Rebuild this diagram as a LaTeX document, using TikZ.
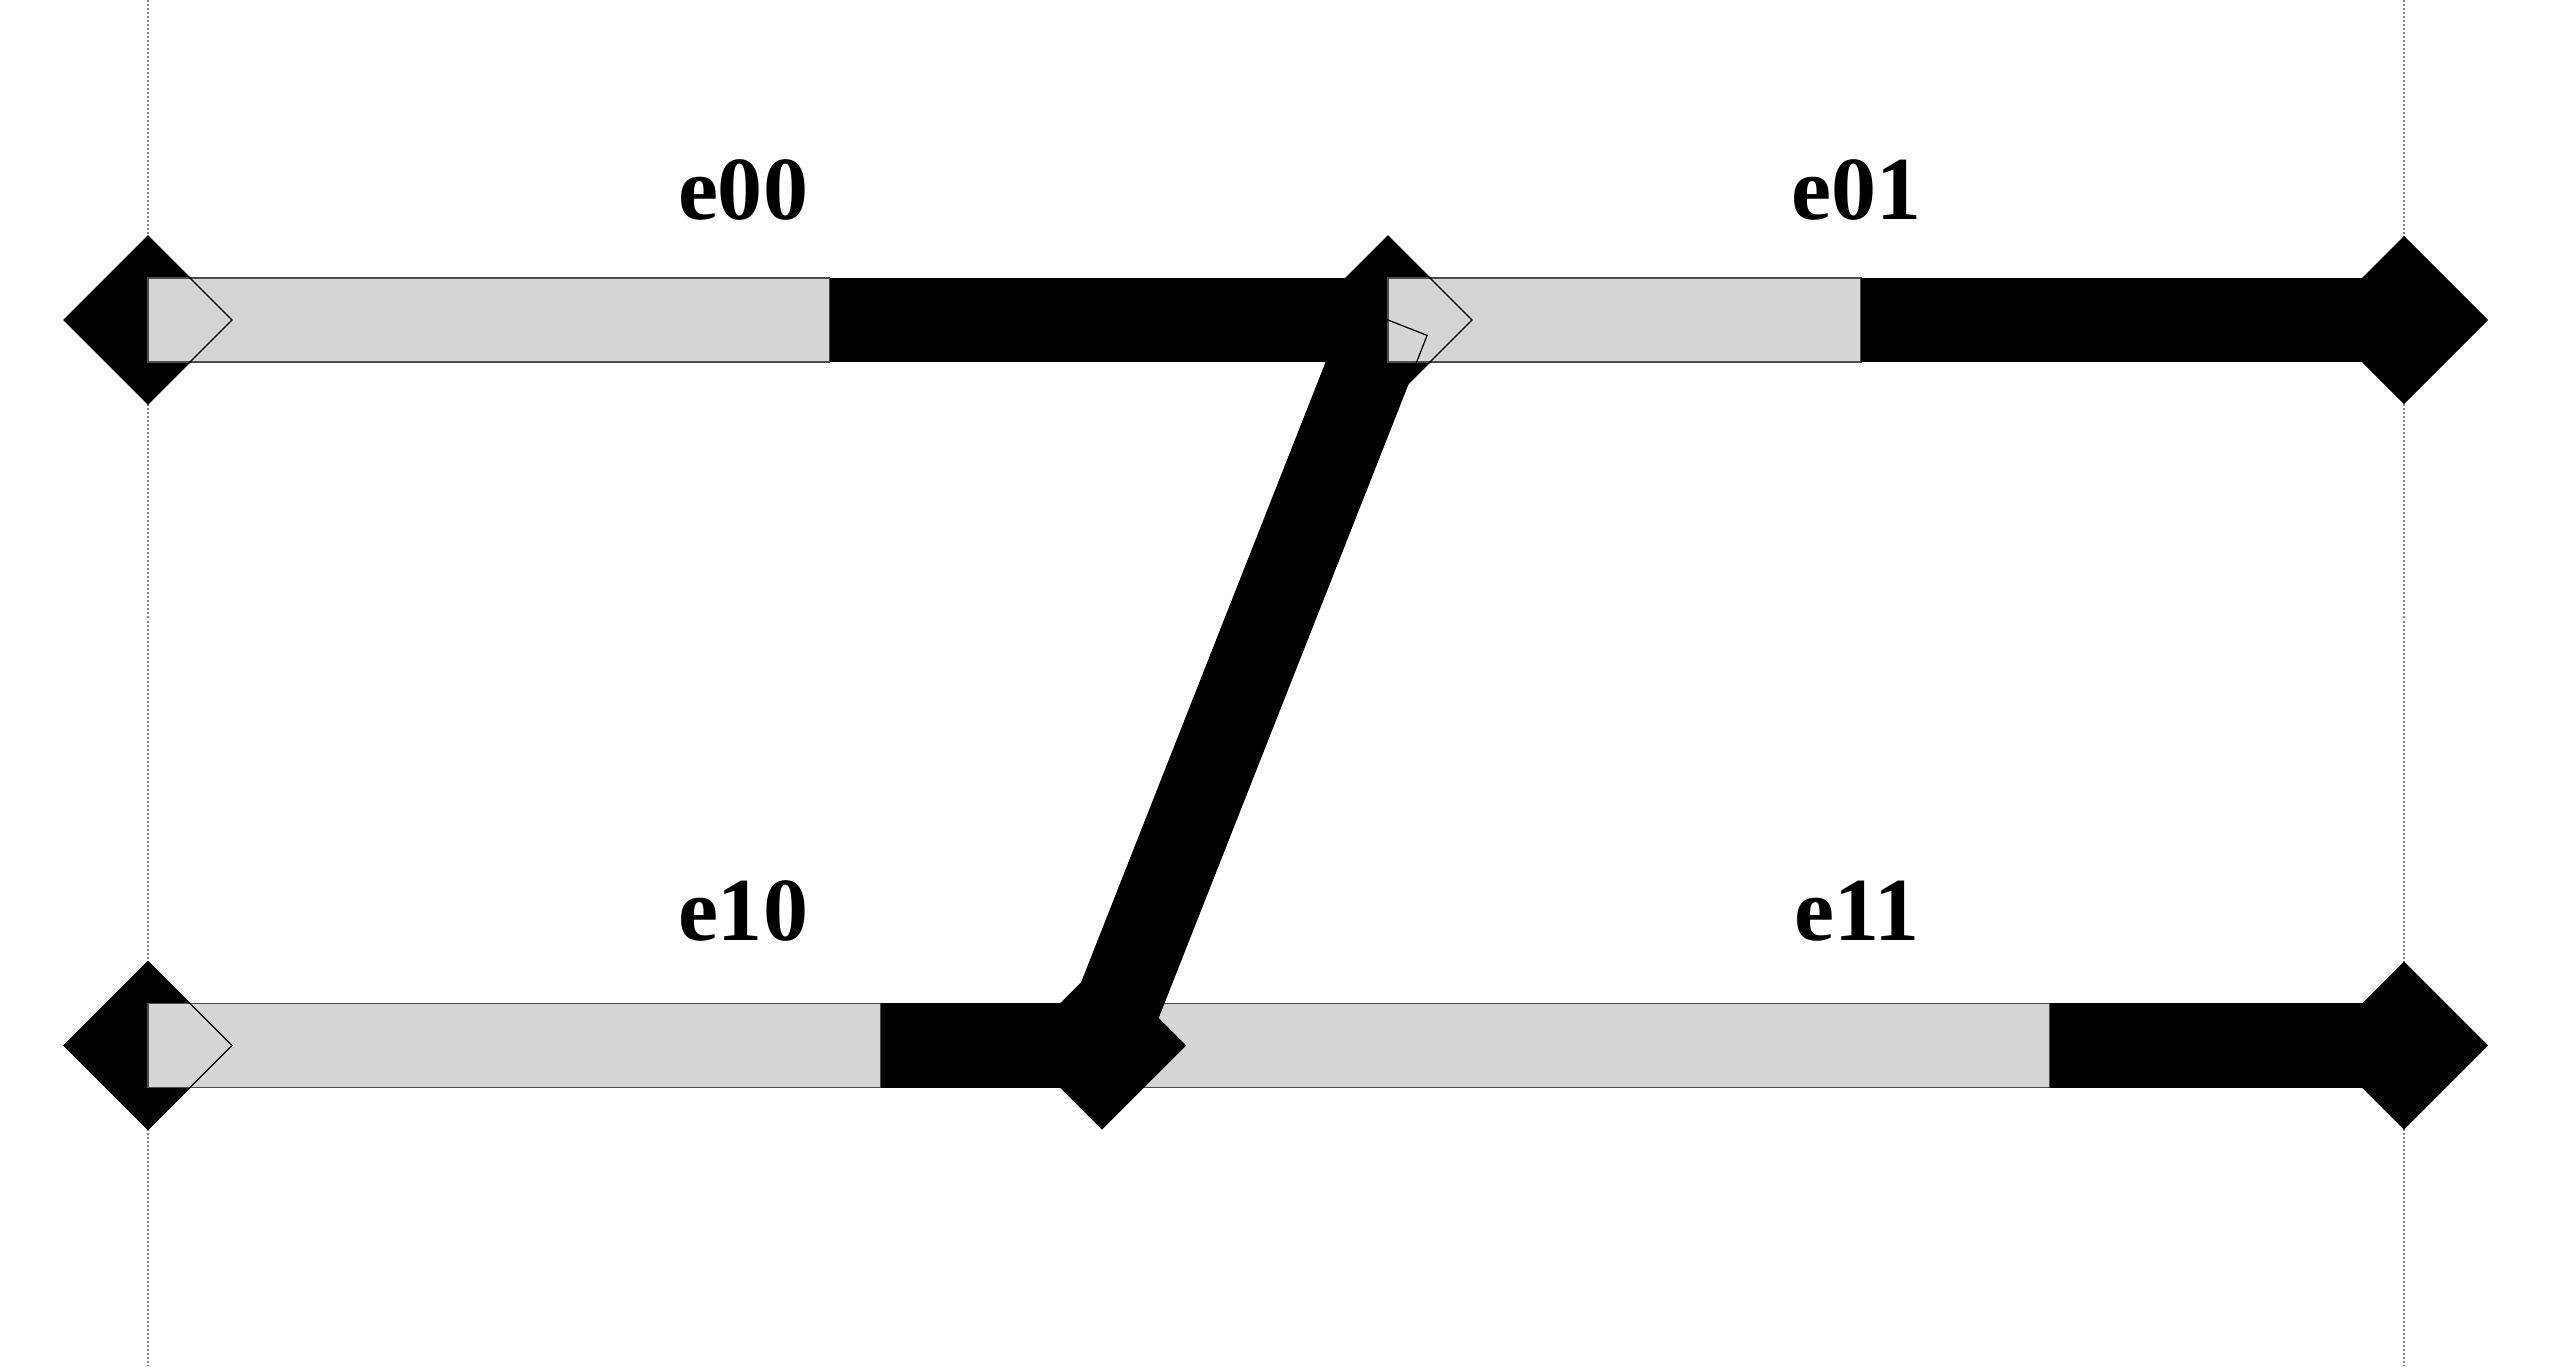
\documentclass[tikz,border=0pt]{standalone}
\usepackage{fontspec}
\setmainfont{Liberation Serif}
\usetikzlibrary{shapes.geometric,calc}
\definecolor{barfill}{RGB}{214,214,214}
\begin{document}
\begin{tikzpicture}[x=0.01cm,y=-0.01cm,
  junction/.style={shape=diamond, fill=black, draw=none, inner sep=0pt, outer sep=0pt,
    minimum width=1.68cm, minimum height=1.68cm},
  greyseg/.style={fill=barfill, draw=black!70, line width=0.4pt},
  blackseg/.style={fill=black, draw=none},
  rim/.style={draw=black, line width=0.35pt},
  guide/.style={draw=black!50, line width=0.57pt, dash pattern=on 0.02cm off 0.02cm},
  lbl/.style={font=\fontsize{25.6}{30}\selectfont\bfseries, anchor=base, inner sep=0pt}]
\useasboundingbox (0,0) rectangle (2552,1366);
% guide lines
\coordinate (g1t) at (148,0);
\coordinate (g1b) at (148,1366);
\coordinate (g2t) at (2404,0);
\coordinate (g2b) at (2404,1366);
\draw[guide] (g1t) -- (g1b);
\draw[guide] (g2t) -- (g2b);
% junctions (fills)
\node[junction] (lt) at (148,320) {};
\node[junction] (lb) at (148,1045.5) {};
\node[junction] (mt) at (1388,320) {};
\node[junction] (rt) at (2404,320) {};
\node[junction] (rb) at (2404,1045.5) {};
\coordinate (mbpos) at (1102,1045.5);
% split points
\coordinate (s00) at (829.5,320);
\coordinate (s01) at (1861,320);
\coordinate (s10) at (880.7,1045.5);
\coordinate (s11) at (2050,1045.5);
% bottom edges
\path[greyseg] ([yshift=0.42cm]lb.center) rectangle ([yshift=-0.42cm]s10);
\path[blackseg] ([yshift=0.42cm]s10) rectangle ([yshift=-0.42cm]mbpos);
\path[greyseg] ([yshift=0.42cm]mbpos) rectangle ([yshift=-0.42cm]s11);
\path[blackseg] ([yshift=0.42cm]s11) rectangle ([yshift=-0.42cm]rb.center);
% diagonal connector
\coordinate (da) at ($(mt.center)!0.42cm!90:(mbpos)$);
\coordinate (db) at ($(mt.center)!0.42cm!-90:(mbpos)$);
\coordinate (dc) at ($(mbpos)!0.42cm!90:(mt.center)$);
\coordinate (dd) at ($(mbpos)!0.42cm!-90:(mt.center)$);
\fill[black] (da) -- (db) -- (dc) -- (dd) -- cycle;
\node[junction] (mb) at (mbpos) {};
% top edges
\path[greyseg] ([yshift=0.42cm]lt.center) rectangle ([yshift=-0.42cm]s00);
\path[blackseg] ([yshift=0.42cm]s00) rectangle ([yshift=-0.42cm]mt.center);
\path[greyseg] ([yshift=0.42cm]mt.center) rectangle ([yshift=-0.42cm]s01);
\path[blackseg] ([yshift=0.42cm]s01) rectangle ([yshift=-0.42cm]rt.center);
% outlines showing through
\draw[rim] (lt.north) -- (lt.east) -- (lt.south) -- (lt.west) -- cycle;
\draw[rim] (lb.north) -- (lb.east) -- (lb.south) -- (lb.west) -- cycle;
\draw[rim] (mt.north) -- (mt.east) -- (mt.south) -- (mt.west) -- cycle;
\draw[rim] (da) -- (db) -- (dc) -- (dd) -- cycle;
% labels
\node[lbl] (l00) at (743,219) {e00};
\node[lbl] (l01) at (1856,219) {e01};
\node[lbl] (l10) at (743,940) {e10};
\node[lbl] (l11) at (1857,940) {e11};
\end{tikzpicture}
\end{document}
